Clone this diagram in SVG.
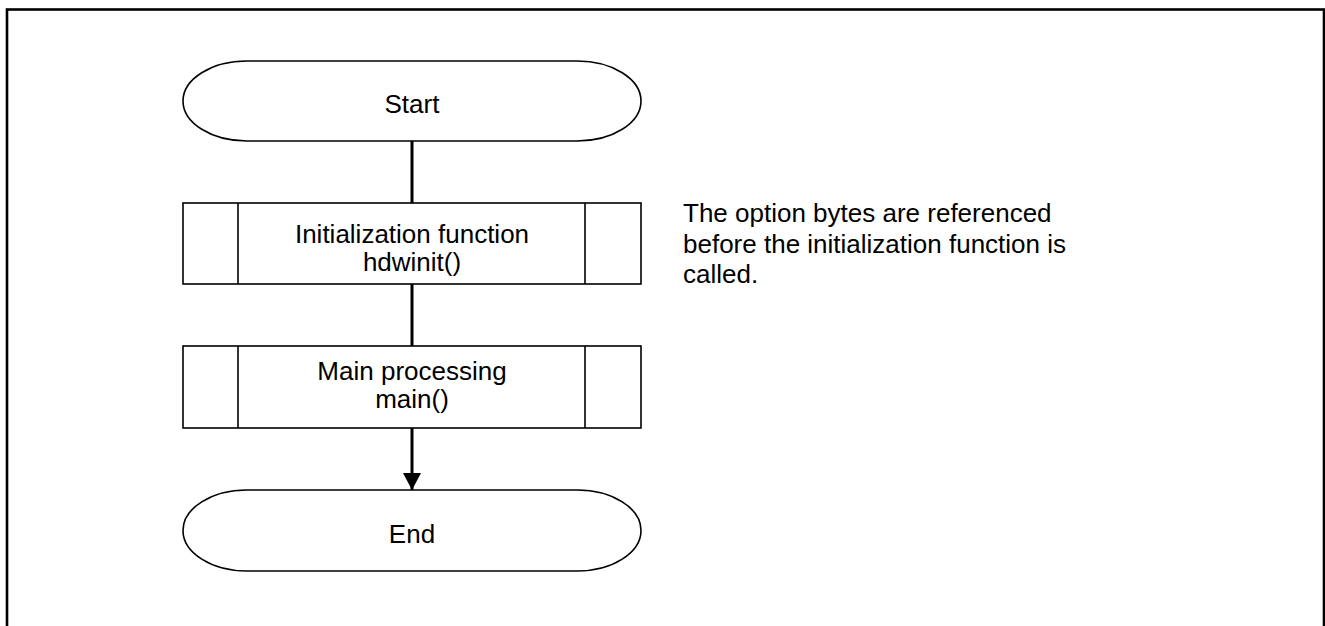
<svg xmlns="http://www.w3.org/2000/svg" width="1325" height="626" viewBox="0 0 1325 626">
<style>
.shape{fill:#fff;stroke:#000;stroke-width:1.6}
.conn{stroke:#000;stroke-width:3;fill:none}
text{font-family:"Liberation Sans",Arial,Helvetica,sans-serif;font-size:26px;fill:#000}
.c{text-anchor:middle}
</style>
<defs>
<marker id="arr" markerUnits="userSpaceOnUse" markerWidth="18" markerHeight="18" refX="17" refY="9" orient="auto">
<path d="M0,0 L17,9 L0,18 Z" fill="#000"/>
</marker>
</defs>
<rect x="7" y="9.5" width="1317" height="700" fill="#fff" stroke="#000" stroke-width="2.6"/>
<g id="connectors">
<line class="conn" x1="412" y1="141" x2="412" y2="203"/>
<line class="conn" x1="412" y1="284" x2="412" y2="346"/>
<line class="conn" x1="412" y1="428" x2="412" y2="490" marker-end="url(#arr)"/>
</g>
<g id="start">
<path class="shape" d="M247,61 H577 A64,40 0 0 1 577,141 H247 A64,40 0 0 1 247,61 Z"/>
<text class="c" x="412" y="113">Start</text>
</g>
<g id="init">
<rect class="shape" x="183" y="203" width="458" height="81"/>
<line class="shape" x1="238" y1="203" x2="238" y2="284"/>
<line class="shape" x1="585" y1="203" x2="585" y2="284"/>
<text class="c" x="412" y="243">Initialization function</text>
<text class="c" x="412" y="271">hdwinit()</text>
</g>
<g id="main">
<rect class="shape" x="183" y="346" width="458" height="82"/>
<line class="shape" x1="238" y1="346" x2="238" y2="428"/>
<line class="shape" x1="585" y1="346" x2="585" y2="428"/>
<text class="c" x="412" y="380">Main processing</text>
<text class="c" x="412" y="408">main()</text>
</g>
<g id="end">
<path class="shape" d="M247,490 H577 A64,40.5 0 0 1 577,571 H247 A64,40.5 0 0 1 247,490 Z"/>
<text class="c" x="412" y="543">End</text>
</g>
<g id="note">
<text x="683" y="222">The option bytes are referenced</text>
<text x="683" y="253">before the initialization function is</text>
<text x="683" y="283">called.</text>
</g>
</svg>
